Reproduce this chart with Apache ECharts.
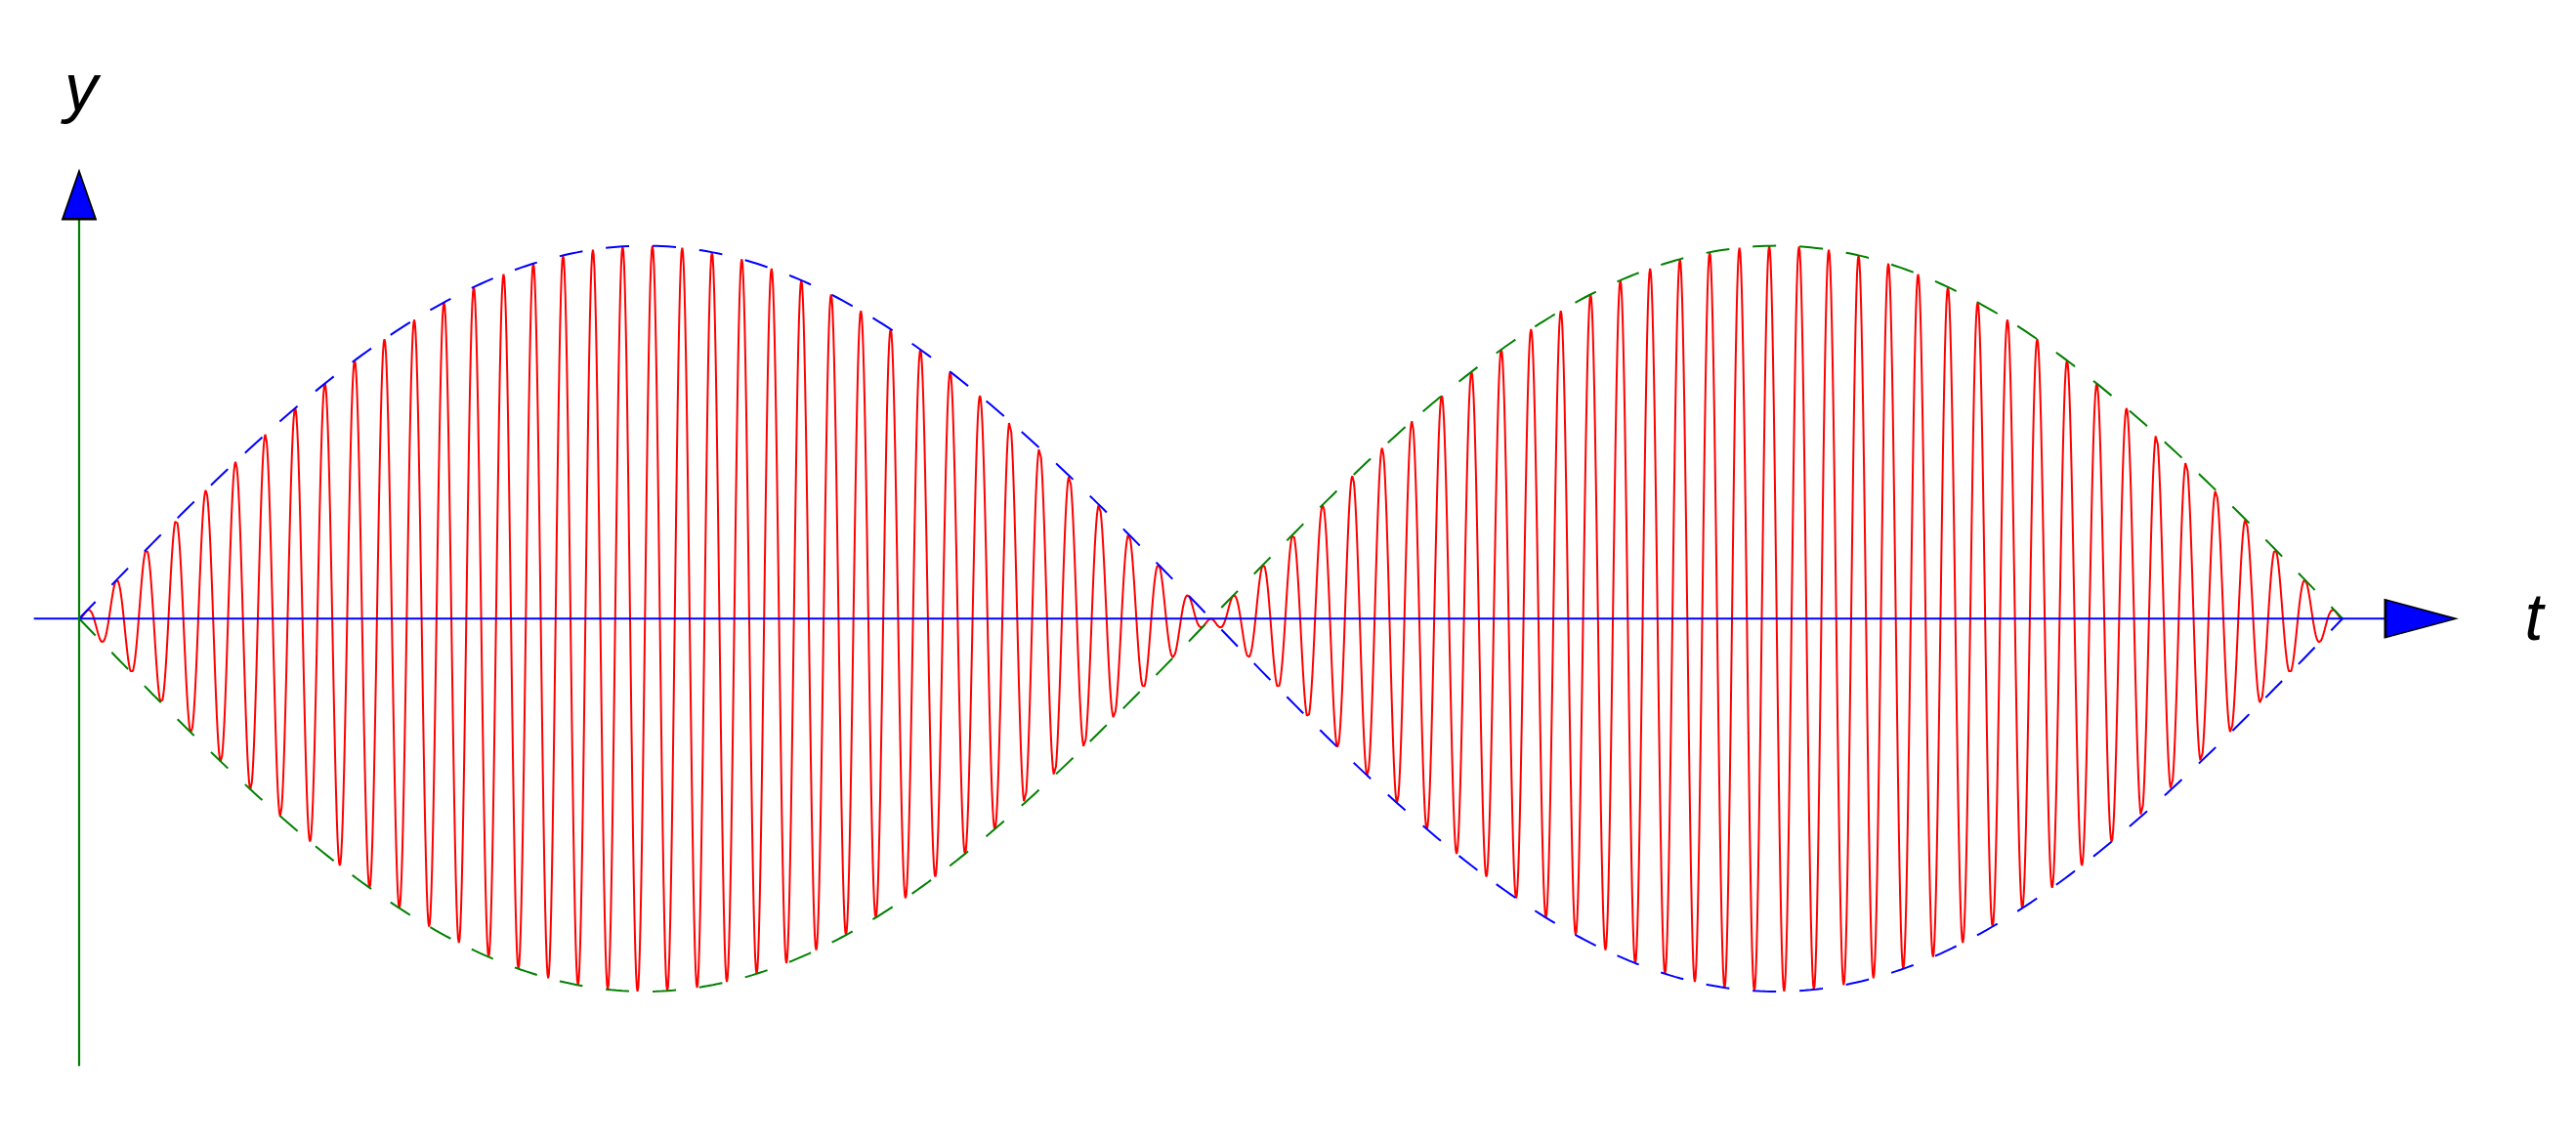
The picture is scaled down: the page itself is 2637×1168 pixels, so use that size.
<!DOCTYPE html>
<html>
<head>
<meta charset="utf-8">
<style>
  html, body { margin: 0; padding: 0; background: #ffffff; }
  #chart { width: 2637px; height: 1168px; }
</style>
<script src="https://cdn.jsdelivr.net/npm/echarts@6/dist/echarts.min.js"></script>
</head>
<body>
<div id="chart"></div>
<script>
// ---- values ----
// envelope: one full period across t in [0, 1], zero at the ends and at the middle node
const envelopeNodes = [0, 0.5, 1];
const envelopePeak = [1];                 // peak amplitude of the envelope (blue = +, green = -)
const carrierCyclesPerLobe = [38, 38];    // red carrier oscillations counted in each lobe
const xAxisSpan = [-0.02, 1.05];          // drawn t-axis (arrow tip at the end)
const yAxisSpan = [-1.2, 1.2];            // drawn y-axis (arrow tip at the end)
const axisNames = ['t', 'y'];
const samplesPerCycle = [40];

// ---- build series from the values above ----
const T0 = envelopeNodes[0], T1 = envelopeNodes[envelopeNodes.length - 1];
const A = envelopePeak[0];
const totalCycles = carrierCyclesPerLobe.reduce((a, b) => a + b, 0);
const envCycles = (envelopeNodes.length - 1) / 2;
const N = totalCycles * samplesPerCycle[0];
const redData = [], blueData = [], greenData = [];
for (let i = 0; i <= N; i++) {
  const t = T0 + (T1 - T0) * i / N;
  const env = A * Math.sin(2 * Math.PI * envCycles * (t - T0) / (T1 - T0));
  const car = Math.sin(2 * Math.PI * totalCycles * (t - T0) / (T1 - T0));
  redData.push([t, env * car]);
}
const envN = 400;
for (let i = 0; i <= envN; i++) {
  const t = T0 + (T1 - T0) * i / envN;
  const env = A * Math.sin(2 * Math.PI * envCycles * (t - T0) / (T1 - T0));
  blueData.push([t, env]);
  greenData.push([t, -env]);
}

// view window so that t=0 sits at x=81px, t=1 at 2398px, y=0 at 633px, |y|=1 at 381.7px
const pxPerT = 2317, pxPerY = 381.7, x0px = 81, y0px = 633.3;
const W = 2637, H = 1168;

const chart = echarts.init(document.getElementById('chart'), null, { renderer: 'canvas' });
const labelStyle = {
  fontFamily: '"Liberation Sans", Arial, sans-serif', fontStyle: 'italic',
  fontSize: 68, color: '#000000', textBorderWidth: 0, textShadowBlur: 0
};
const option = {
  backgroundColor: '#ffffff',
  animation: false,
  grid: { left: 0, right: 0, top: 0, bottom: 0, containLabel: false },
  xAxis: {
    type: 'value',
    min: -x0px / pxPerT,
    max: (W - x0px) / pxPerT,
    show: false
  },
  yAxis: {
    type: 'value',
    min: -(H - y0px) / pxPerY,
    max: y0px / pxPerY,
    show: false
  },
  series: [
    {
      name: 'signal', type: 'line', data: redData, showSymbol: false, symbol: 'none',
      lineStyle: { color: '#ff0000', width: 2 }, z: 2, silent: true
    },
    {
      name: 'envelope+', type: 'line', data: blueData, showSymbol: false, symbol: 'none',
      lineStyle: { color: '#0000ff', width: 2, type: [24, 24] }, z: 3, silent: true
    },
    {
      name: 'envelope-', type: 'line', data: greenData, showSymbol: false, symbol: 'none',
      lineStyle: { color: '#008000', width: 2, type: [24, 24] }, z: 3, silent: true
    },
    {
      name: 't-axis', type: 'line', data: [[xAxisSpan[0], 0], [xAxisSpan[1] - 0.02, 0]],
      showSymbol: false, symbol: 'none', clip: false,
      lineStyle: { color: '#0000ff', width: 2 }, z: 4, silent: true
    },
    {
      name: 'y-axis', type: 'line', data: [[0, yAxisSpan[0]], [0, yAxisSpan[1] - 0.1]],
      showSymbol: false, symbol: 'none', clip: false,
      lineStyle: { color: '#008000', width: 2.2 }, z: 4, silent: true
    },
    {
      name: 'arrows', type: 'scatter', z: 5, silent: true,
      data: [
        { value: [xAxisSpan[1] - 72 / 2 / pxPerT, 0],
          symbol: 'path://M0,0 L1,0.5 L0,1 Z', symbolSize: [72, 38.7] },
        { value: [0, yAxisSpan[1] - 49 / 2 / pxPerY],
          symbol: 'path://M0.5,0 L1,1 L0,1 Z', symbolSize: [34, 49] }
      ],
      symbolKeepAspect: false,
      itemStyle: { color: '#0000ff', borderColor: '#000000', borderWidth: 2, opacity: 1 }
    }
  ],
  graphic: [
    { type: 'text', x: 2594, y: 636, z: 10, silent: true,
      style: Object.assign({ text: axisNames[0], align: 'center', verticalAlign: 'middle',
        font: 'italic 68px "Liberation Sans", Arial, sans-serif', fill: '#000000' }) },
    { type: 'text', x: 83, y: 94, z: 10, silent: true,
      style: Object.assign({ text: axisNames[1], align: 'center', verticalAlign: 'middle',
        font: 'italic 68px "Liberation Sans", Arial, sans-serif', fill: '#000000' }) }
  ]
};
chart.setOption(option);
</script>
</body>
</html>
